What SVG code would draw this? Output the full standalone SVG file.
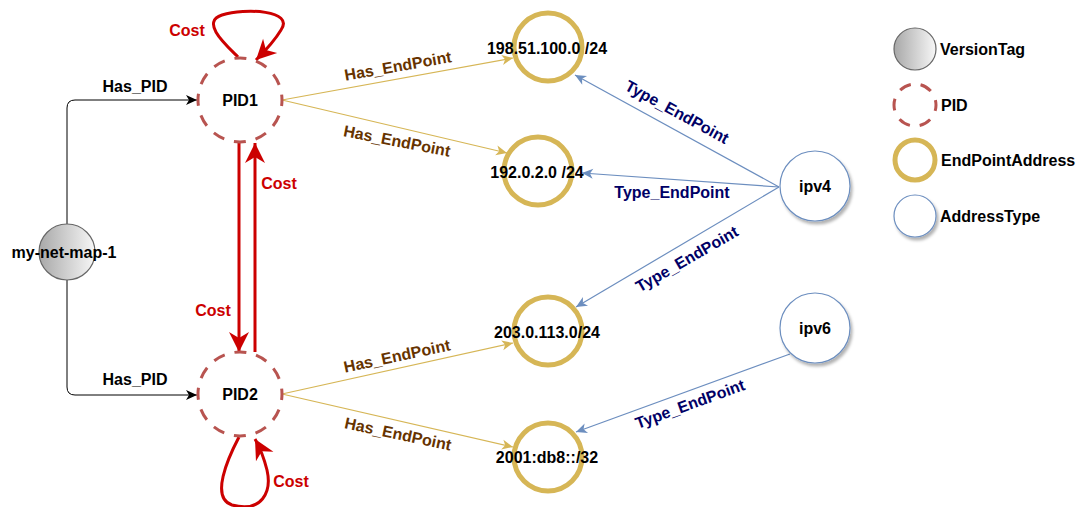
<svg xmlns="http://www.w3.org/2000/svg" width="1083" height="507" viewBox="0 0 1083 507">
<style>
text{font-family:"Liberation Sans",Arial,Helvetica,sans-serif;font-weight:bold;font-size:16px}
.c{text-anchor:middle}
.pid{fill:#fff;stroke:#b85450;stroke-width:3;stroke-dasharray:12 10;stroke-dashoffset:6}
.ep{fill:none;stroke:#d6b656;stroke-width:5}
.at{fill:#fff;stroke:#6c8ebf;stroke-width:1.2}
.vt{fill:url(#g);stroke:#666;stroke-width:1.2}
.blk{fill:none;stroke:#000;stroke-width:1}
.red{fill:none;stroke:#cc0000;stroke-width:3}
.gold{fill:none;stroke:#d6b656;stroke-width:1.2}
.blue{fill:none;stroke:#6c8ebf;stroke-width:1.2}
.lr{fill:#cc0000}
.lb{fill:#663300}
.ln{fill:#000066}
</style>
<defs>
<linearGradient id="g" x1="0" y1="0" x2="1" y2="0">
<stop offset="0" stop-color="#a8a8a8"/>
<stop offset="1" stop-color="#f7f7f7"/>
</linearGradient>
<filter id="sh" x="-30%" y="-30%" width="160%" height="160%">
<feDropShadow dx="2" dy="3" stdDeviation="1.5" flood-color="#000" flood-opacity="0.3"/>
</filter>
<marker id="mk" markerUnits="userSpaceOnUse" markerWidth="14" markerHeight="14" viewBox="-12 -7 14 14" refX="0" refY="0" orient="auto">
<path d="M0,0 L-11,-5 L-8,0 L-11,5 Z" fill="#000"/>
</marker>
<marker id="mg" markerUnits="userSpaceOnUse" markerWidth="14" markerHeight="14" viewBox="-12 -7 14 14" refX="0" refY="0" orient="auto">
<path d="M0,0 L-11,-5 L-8,0 L-11,5 Z" fill="#d6b656"/>
</marker>
<marker id="mb" markerUnits="userSpaceOnUse" markerWidth="14" markerHeight="14" viewBox="-12 -7 14 14" refX="0" refY="0" orient="auto">
<path d="M0,0 L-11,-5 L-8,0 L-11,5 Z" fill="#6c8ebf"/>
</marker>
<marker id="mr" markerUnits="userSpaceOnUse" markerWidth="24" markerHeight="24" viewBox="-22 -12 24 24" refX="0" refY="0" orient="auto">
<path d="M0,0 L-20,-10 L-14,0 L-20,10 Z" fill="#cc0000"/>
</marker>
</defs>

<g id="connectors">
<path class="blk" d="M67,224 V108 Q67,100 75,100 H197" marker-end="url(#mk)"/>
<text class="c" x="135" y="92">Has_PID</text>
<path class="blk" d="M67,280 V387 Q67,395 75,395 H197" marker-end="url(#mk)"/>
<text class="c" x="135" y="385">Has_PID</text>

<path class="red" d="M238,57 C226,45 200,22 222,15 C245,8 295,10 281,30 C275,40 266,50 256,60" marker-end="url(#mr)"/>
<text class="c lr" x="187" y="36">Cost</text>
<path class="red" d="M239,143 V352" marker-end="url(#mr)"/>
<text class="c lr" x="213" y="316">Cost</text>
<path class="red" d="M255,352 V143" marker-end="url(#mr)"/>
<text class="c lr" x="279" y="189">Cost</text>
<path class="red" d="M239,437 C228,458 210,498 232,505 C262,513 272,492 267,470 C264,458 260,448 255,439" marker-end="url(#mr)"/>
<text class="c lr" x="291" y="487">Cost</text>

<path class="gold" d="M282,100 L513,58" marker-end="url(#mg)"/>
<text class="c lb" transform="translate(398,66) rotate(-10)" y="5.5">Has_EndPoint</text>
<path class="gold" d="M282,100 L507,153" marker-end="url(#mg)"/>
<text class="c lb" transform="translate(397,141) rotate(11)" y="5.5">Has_EndPoint</text>
<path class="gold" d="M282,394 L513,343" marker-end="url(#mg)"/>
<text class="c lb" transform="translate(397,356) rotate(-12)" y="5.5">Has_EndPoint</text>
<path class="gold" d="M282,394 L513,447" marker-end="url(#mg)"/>
<text class="c lb" transform="translate(398,434) rotate(12)" y="5.5">Has_EndPoint</text>

<path class="blue" d="M779,187 L575,75" marker-end="url(#mb)"/>
<text class="c ln" transform="translate(677,112) rotate(28.5)" y="5.5">Type_EndPoint</text>
<path class="blue" d="M779,187 L582,173" marker-end="url(#mb)"/>
<text class="c ln" x="672" y="198">Type_EndPoint</text>
<path class="blue" d="M779,187 L576,307" marker-end="url(#mb)"/>
<text class="c ln" transform="translate(687,259) rotate(-30)" y="5.5">Type_EndPoint</text>
<path class="blue" d="M790,354 L576,432" marker-end="url(#mb)"/>
<text class="c ln" transform="translate(690,404) rotate(-20)" y="5.5">Type_EndPoint</text>
</g>

<g id="my-net-map-1">
<circle class="vt" cx="67" cy="252" r="28"/>
<text class="c" x="64" y="258">my-net-map-1</text>
</g>
<g id="PID1">
<circle class="pid" cx="240" cy="100" r="42"/>
<text class="c" x="240" y="106">PID1</text>
</g>
<g id="PID2">
<circle class="pid" cx="240" cy="394" r="42"/>
<text class="c" x="240" y="400">PID2</text>
</g>
<g id="ep-198">
<circle class="ep" cx="548" cy="47" r="34"/>
<text class="c" x="547" y="54">198.51.100.0 /24</text>
</g>
<g id="ep-192">
<circle class="ep" cx="538" cy="171" r="34"/>
<text class="c" x="537" y="178">192.0.2.0 /24</text>
</g>
<g id="ep-203">
<circle class="ep" cx="548" cy="331" r="34"/>
<text class="c" x="547" y="338">203.0.113.0/24</text>
</g>
<g id="ep-2001">
<circle class="ep" cx="548" cy="457" r="34"/>
<text class="c" x="547" y="463">2001:db8::/32</text>
</g>
<g id="ipv4">
<circle class="at" cx="815" cy="186" r="35" filter="url(#sh)"/>
<text class="c" x="815" y="192">ipv4</text>
</g>
<g id="ipv6">
<circle class="at" cx="815" cy="328" r="35" filter="url(#sh)"/>
<text class="c" x="815" y="334">ipv6</text>
</g>

<g id="legend-VersionTag">
<circle class="vt" cx="915" cy="49" r="21"/>
<text x="940" y="55">VersionTag</text>
</g>
<g id="legend-PID">
<circle class="pid" cx="915" cy="105" r="21" style="stroke-dasharray:12 10;stroke-dashoffset:6"/>
<text x="941" y="111">PID</text>
</g>
<g id="legend-EndPointAddress">
<circle class="ep" cx="915" cy="160" r="20"/>
<text x="941" y="166">EndPointAddress</text>
</g>
<g id="legend-AddressType">
<circle class="at" cx="915" cy="216" r="21" filter="url(#sh)"/>
<text x="940" y="222">AddressType</text>
</g>
</svg>
